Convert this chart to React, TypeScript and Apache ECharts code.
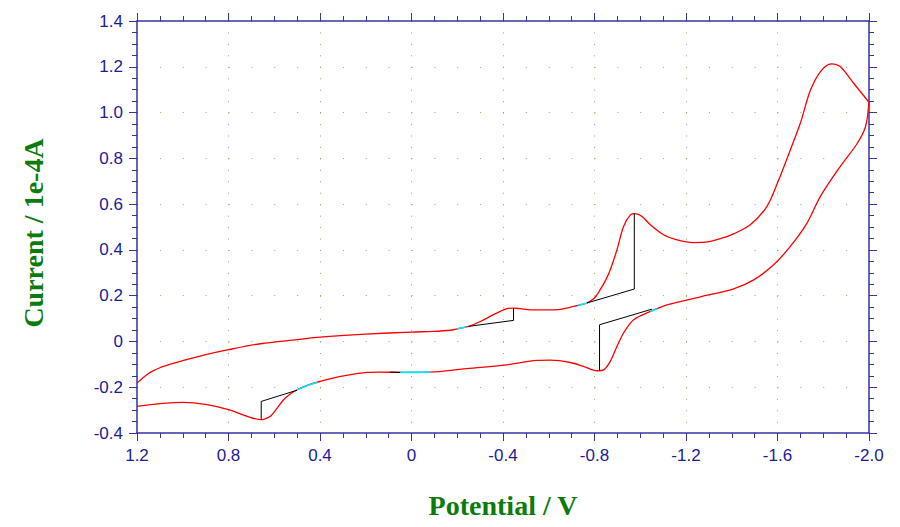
import React, { useEffect, useRef } from 'react';
import * as echarts from 'echarts';

// Potential (V) and current (1e-4 A)
const forwardV = [1.2, 1.17, 1.142, 1.1, 1.05, 1.011, 0.9, 0.8, 0.661, 0.5, 0.4, 0.2, 0, -0.097, -0.17, -0.199, -0.25, -0.301, -0.359, -0.417, -0.446, -0.476, -0.519, -0.607, -0.65, -0.709, -0.738, -0.767, -0.8, -0.825, -0.85, -0.869, -0.898, -0.927, -0.957, -0.978, -1.008, -1.044, -1.102, -1.161, -1.233, -1.3, -1.37, -1.408, -1.481, -1.554, -1.605, -1.642, -1.7, -1.743, -1.787, -1.835, -1.874, -1.933, -2.0];
const forwardI = [-0.182, -0.155, -0.135, -0.115, -0.098, -0.087, -0.058, -0.036, -0.010, 0.008, 0.019, 0.032, 0.041, 0.044, 0.049, 0.055, 0.066, 0.087, 0.117, 0.143, 0.146, 0.143, 0.138, 0.138, 0.14, 0.153, 0.16, 0.168, 0.19, 0.226, 0.27, 0.313, 0.4, 0.502, 0.553, 0.558, 0.546, 0.51, 0.466, 0.444, 0.432, 0.436, 0.455, 0.47, 0.51, 0.59, 0.705, 0.8, 0.954, 1.095, 1.178, 1.213, 1.201, 1.128, 1.045];
const reverseV = [-2.0, -1.985, -1.949, -1.874, -1.787, -1.729, -1.656, -1.583, -1.496, -1.408, -1.263, -1.117, -1.044, -0.971, -0.927, -0.898, -0.869, -0.84, -0.811, -0.752, -0.694, -0.607, -0.549, -0.417, -0.228, -0.082, 0.049, 0.137, 0.194, 0.311, 0.4, 0.45, 0.5, 0.53, 0.559, 0.59, 0.617, 0.64, 0.657, 0.719, 0.8, 0.9, 0.996, 1.1, 1.2];
const reverseI = [1.045, 0.939, 0.866, 0.764, 0.633, 0.517, 0.415, 0.335, 0.269, 0.23, 0.195, 0.16, 0.131, 0.095, 0.037, -0.022, -0.087, -0.124, -0.128, -0.109, -0.092, -0.082, -0.083, -0.102, -0.12, -0.134, -0.135, -0.134, -0.135, -0.153, -0.175, -0.19, -0.211, -0.23, -0.255, -0.295, -0.327, -0.338, -0.342, -0.327, -0.298, -0.275, -0.266, -0.272, -0.284];

// Peak baselines (black) and baseline fit regions (cyan)
const baselines = [
  [[0.657, -0.342], [0.657, -0.262], [0.5, -0.213]],
  [[-0.446, 0.146], [-0.446, 0.092], [-0.25, 0.066]],
  [[-0.974, 0.558], [-0.974, 0.229], [-0.767, 0.168]],
  [[-0.822, -0.128], [-0.822, 0.073], [-1.051, 0.141]],
  [[0.093, -0.134], [0.049, -0.135]],
];
const fitRegions = [
  [[0.5, -0.211], [0.45, -0.19], [0.41, -0.178]],
  [[0.049, -0.135], [-0.082, -0.134]],
  [[-0.199, 0.055], [-0.24, 0.063]],
  [[-0.728, 0.157], [-0.767, 0.168]],
  [[-1.044, 0.131], [-1.075, 0.143]],
];

const xTicks = [1.2, 0.8, 0.4, 0, -0.4, -0.8, -1.2, -1.6, -2.0];
const yTicks = [-0.4, -0.2, 0, 0.2, 0.4, 0.6, 0.8, 1.0, 1.2, 1.4];

const axisColor = '#3434a2';
const labelColor = '#1c1c96';
const gridColor = '#86b066';
const titleColor = '#0b7b0b';

const fmt = (v: number) => (Math.abs(v) < 1e-9 ? '0' : v.toFixed(1));

function makeAxis(kind: 'x' | 'y', main: boolean) {
  const ticks = kind === 'x' ? xTicks : yTicks;
  const min = Math.min(...ticks);
  const max = Math.max(...ticks);
  const interval = kind === 'x' ? 0.4 : 0.2;
  return {
    type: 'value',
    min,
    max,
    interval,
    inverse: kind === 'x',
    position: kind === 'x' ? (main ? 'bottom' : 'top') : (main ? 'left' : 'right'),
    axisLine: { show: true, onZero: false, lineStyle: { color: axisColor, width: 1.5 } },
    axisTick: { show: true, inside: false, length: 8, lineStyle: { color: axisColor, width: 1 } },
    minorTick: { show: true, splitNumber: 4, length: 5, lineStyle: { color: axisColor, width: 1 } },
    axisLabel: {
      show: main,
      color: labelColor,
      fontSize: 17,
      fontFamily: '"Liberation Sans", Arial, sans-serif',
      margin: 14,
      formatter: fmt,
    },
    splitLine: {
      show: main,
      lineStyle: {
        color: gridColor,
        width: 1,
        type: kind === 'x' ? [1, 10.45] : [1, 21.875],
      },
    },
    minorSplitLine: { show: false },
  };
}

export default function App() {
  const ref = useRef<HTMLDivElement>(null);
  useEffect(() => {
    const chart = echarts.init(ref.current as HTMLDivElement, null, { renderer: 'svg' });
    const fwd = forwardV.map((v, i) => [v, forwardI[i]]);
    const rev = reverseV.map((v, i) => [v, reverseI[i]]);
    const series: any[] = [fwd, rev].map((d) => ({
      type: 'line',
      data: d,
      smooth: 0.3,
      symbol: 'none',
      lineStyle: { color: '#ff0000', width: 1.3 },
      z: 3,
    }));
    baselines.forEach((b) =>
      series.push({
        type: 'line',
        data: b,
        symbol: 'none',
        lineStyle: { color: '#000000', width: 1 },
        z: 4,
      })
    );
    fitRegions.forEach((f) =>
      series.push({
        type: 'line',
        data: f,
        symbol: 'none',
        lineStyle: { color: '#00e5ff', width: 1.6 },
        z: 5,
      })
    );
    chart.setOption({
      animation: false,
      backgroundColor: '#ffffff',
      grid: { left: 137, right: 31, top: 21, bottom: 94, containLabel: false },
      xAxis: [makeAxis('x', true), makeAxis('x', false)],
      yAxis: [makeAxis('y', true), makeAxis('y', false)],
      series,
      graphic: [
        {
          type: 'text',
          x: 503,
          y: 505,
          style: {
            text: 'Potential / V',
            font: 'bold 28px "Liberation Serif", "Times New Roman", serif',
            fill: titleColor,
            align: 'center',
            verticalAlign: 'middle',
          },
        },
        {
          type: 'text',
          x: 33,
          y: 233,
          rotation: Math.PI / 2,
          style: {
            text: 'Current / 1e-4A',
            font: 'bold 28px "Liberation Serif", "Times New Roman", serif',
            fill: titleColor,
            align: 'center',
            verticalAlign: 'middle',
          },
        },
      ],
    });
    return () => chart.dispose();
  }, []);
  return (
    <div
      ref={ref}
      style={{ position: 'absolute', left: 0, top: 0, width: 900, height: 527, background: '#fff' }}
    />
  );
}
